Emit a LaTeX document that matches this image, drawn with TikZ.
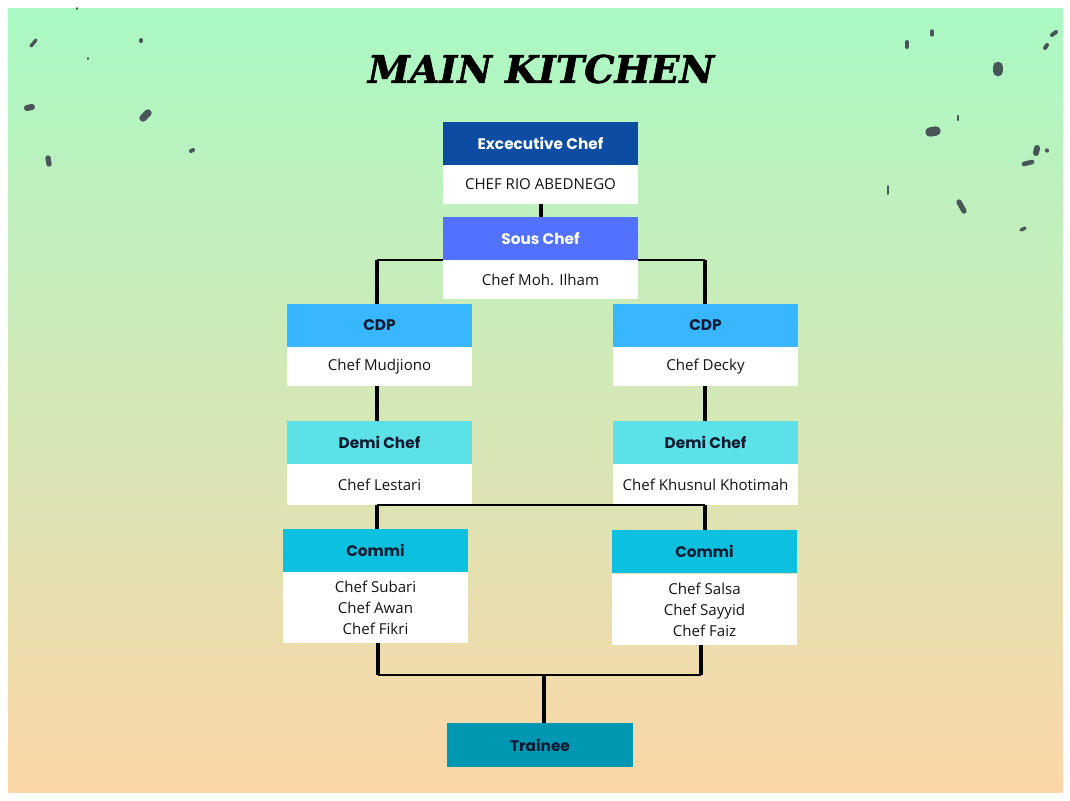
\documentclass[tikz,border=0pt]{standalone}
\usepackage{fontspec}
\setmainfont{Open Sans}
\newfontfamily\headfont{Poppins}
\newfontfamily\titlefont[BoldItalicFeatures={FakeBold=1.6}]{DejaVu Serif}

\definecolor{bgtop}{RGB}{170,249,196}
\definecolor{bgmid}{RGB}{208,233,180}
\definecolor{bgbot}{RGB}{252,214,168}
\definecolor{execc}{RGB}{12,76,163}
\definecolor{sousc}{RGB}{82,113,255}
\definecolor{cdpc}{RGB}{56,182,255}
\definecolor{demic}{RGB}{92,225,230}
\definecolor{commic}{RGB}{12,192,223}
\definecolor{trainc}{RGB}{0,151,178}
\definecolor{navyt}{RGB}{10,26,48}
\definecolor{inkt}{RGB}{20,20,20}
\definecolor{blobc}{RGB}{72,86,88}

\tikzset{every picture/.style={line width=0.75pt}}
\tikzset{
  hdbox/.style={minimum width=138.75pt, minimum height=32.25pt, inner sep=0pt, outer sep=0pt, anchor=north west, text=navyt, font=\headfont\bfseries\fontsize{11.5}{13}\selectfont},
  namebox/.style={fill=white, minimum width=138.75pt, minimum height=29.25pt, inner sep=0pt, outer sep=0pt, anchor=north west, align=center, text=inkt, font=\fontsize{11.3}{15.75}\selectfont},
  barln/.style={line width=3pt},
  railln/.style={line width=1.5pt},
  blob/.style={line width=#1, line cap=round, color=blobc},
}

\begin{document}
\begin{tikzpicture}[x=0.75pt,y=0.75pt,yscale=-1,xscale=1]
\useasboundingbox (0,0) rectangle (1070,800);

%Background
\fill[white] (0,0) rectangle (1070,800);
\fill[top color=bgtop, middle color=bgmid, bottom color=bgbot] (8,8) rectangle (1063,792);

%Speckles left
\draw[blob=1.5pt] (77,8) -- (77,9);
\draw[blob=2.5pt] (31,46) -- (36,40);
\draw[blob=3pt] (141,40) -- (141,41);
\draw[blob=1.5pt] (88,58) -- (88,59);
\draw[blob=4.5pt] (27,108) -- (32,107);
\draw[blob=5.5pt] (143,118) -- (148,113);
\draw[blob=4pt] (48,158) -- (49,164);
\draw[blob=3pt] (191,151) -- (193,150);

%Speckles right
\draw[blob=3pt] (907,42) -- (907,47);
\draw[blob=2.5pt] (932,31) -- (932,35);
\draw[blob=3pt] (1052,35) -- (1056,32);
\draw[blob=3pt] (1045,48) -- (1047,45);
\draw[blob=8pt] (998,67) -- (998,71);
\draw[blob=2pt] (958,116) -- (958,120);
\draw[blob=7pt] (930,132) -- (936,131);
\draw[blob=4.5pt] (1037,148) -- (1036,153);
\draw[blob=2.5pt] (1047,150) -- (1047,151);
\draw[blob=3.5pt] (1024,164) -- (1032,162);
\draw[blob=1.5pt] (888,186) -- (888,194);
\draw[blob=4pt] (959,202) -- (964,211);
\draw[blob=2.5pt] (1021,230) -- (1025,228);

% Title
\node[font=\titlefont\bfseries\itshape\fontsize{28.5}{34}\selectfont] (ttl) at (541,69) {MAIN KITCHEN};

% Executive chef
\node[hdbox, fill=execc, text=white, minimum width=146.25pt] (exeh) at (443,122) {Excecutive Chef};
\node[namebox, minimum width=146.25pt] (exeb) at (443,165) {CHEF RIO ABEDNEGO};
% Sous chef
\node[hdbox, fill=sousc, text=white, minimum width=146.25pt] (sou) at (443,217) {Sous Chef};
\node[namebox, minimum width=146.25pt] (soub) at (443,260) {Chef Moh. Ilham};

% CDP
\node[hdbox, fill=cdpc] (cdpl) at (287,304) {CDP};
\node[namebox] (cdplb) at (287,347) {Chef Mudjiono};
\node[hdbox, fill=cdpc] (cdpr) at (613,304) {CDP};
\node[namebox] (cdprb) at (613,347) {Chef Decky};

% Demi chef
\node[hdbox, fill=demic] (deml) at (287,421) {Demi Chef};
\node[namebox, minimum height=30.75pt] (demlb) at (287,464) {Chef Lestari};
\node[hdbox, fill=demic] (demr) at (613,421) {Demi Chef};
\node[namebox, minimum height=30.75pt] (demrb) at (613,464) {Chef Khusnul Khotimah};

% Commi
\node[hdbox, fill=commic] (coml) at (283,529) {Commi};
\node[namebox, minimum height=53.25pt] (comlb) at (283,572) {Chef Subari\\Chef Awan\\Chef Fikri};
\node[hdbox, fill=commic] (comr) at (612,530) {Commi};
\node[namebox, minimum height=53.25pt] (comrb) at (612,574) {Chef Salsa\\Chef Sayyid\\Chef Faiz};

% Trainee
\node[hdbox, fill=trainc, minimum width=139.5pt, minimum height=33pt] (trn) at (447,723) {Trainee};

% Connectors
\coordinate (kl1) at (377,260);
\coordinate (kr1) at (705,260);
\coordinate (kl3) at (378,675);
\coordinate (kr3) at (701,675);
\coordinate (kt) at (544,675);

\draw[barln] (exeb.south) -- (sou.north);
\draw[railln] (soub.north west) -- (kl1);
\draw[railln] (soub.north east) -- (kr1);
\draw[barln] (kl1) -- (kl1 |- cdpl.north);
\draw[barln] (kr1) -- (kr1 |- cdpr.north);
\draw[barln] (kl1 |- cdplb.south) -- (kl1 |- deml.north);
\draw[barln] (kr1 |- cdprb.south) -- (kr1 |- demr.north);
\draw[railln] (kl1 |- demlb.south) -- (kr1 |- demrb.south);
\draw[barln] (kl1 |- demlb.south) -- (kl1 |- coml.north);
\draw[barln] (kr1 |- demrb.south) -- (kr1 |- comr.north);
\draw[barln] (kl3 |- comlb.south) -- (kl3);
\draw[barln] (kr3 |- comrb.south) -- (kr3);
\draw[railln] (kl3) -- (kr3);
\draw[barln] (kt) -- (kt |- trn.north);

\end{tikzpicture}
\end{document}
